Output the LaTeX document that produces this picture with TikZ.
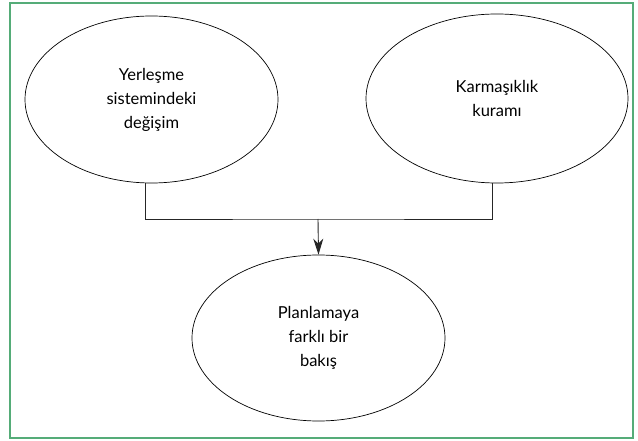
\documentclass[tikz,border=0pt]{standalone}
\usepackage{fontspec}
\setmainfont{Lato}
\usetikzlibrary{shapes.geometric,arrows.meta}

\begin{document}
\begin{tikzpicture}[x=1pt, y=-1pt, thick,
    kavram/.style={draw, ellipse, line width=0.7pt, inner sep=0pt, align=center,
      font=\fontsize{16.5}{24}\selectfont},
    baglanti/.style={line width=0.9pt, color=black!85}]
        % Renkler
        \definecolor{cerceveyesil}{RGB}{85, 172, 120}

        % Cerceve
        \useasboundingbox (0,0) rectangle (638,441);
        \draw[cerceveyesil, line width=2pt] (10,3) rectangle (632.5,437.5);

        % Dugumler
        \node[kavram, minimum width=253, minimum height=167] (yerlesme) at (151.5,99.5) {Yerleşme\\sistemindeki\\değişim};

        \node[kavram, minimum width=262, minimum height=169] (karmasiklik) at (497,98.5) {Karmaşıklık\\kuramı};

        \node[kavram, minimum width=253, minimum height=166] (planlama) at (318.5,338) {Planlamaya\\farklı bir\\bakış};

        % Baglantilar
        \coordinate (birlesme) at (318,219);
        \draw[baglanti] ([xshift=-6.5]yerlesme.south) |- (birlesme) -| ([xshift=-5]karmasiklik.south);
        \draw[baglanti, -{Stealth[length=16pt, width=10pt, inset=5pt]}] (birlesme) -- (planlama.north);

    \end{tikzpicture}
\end{document}
